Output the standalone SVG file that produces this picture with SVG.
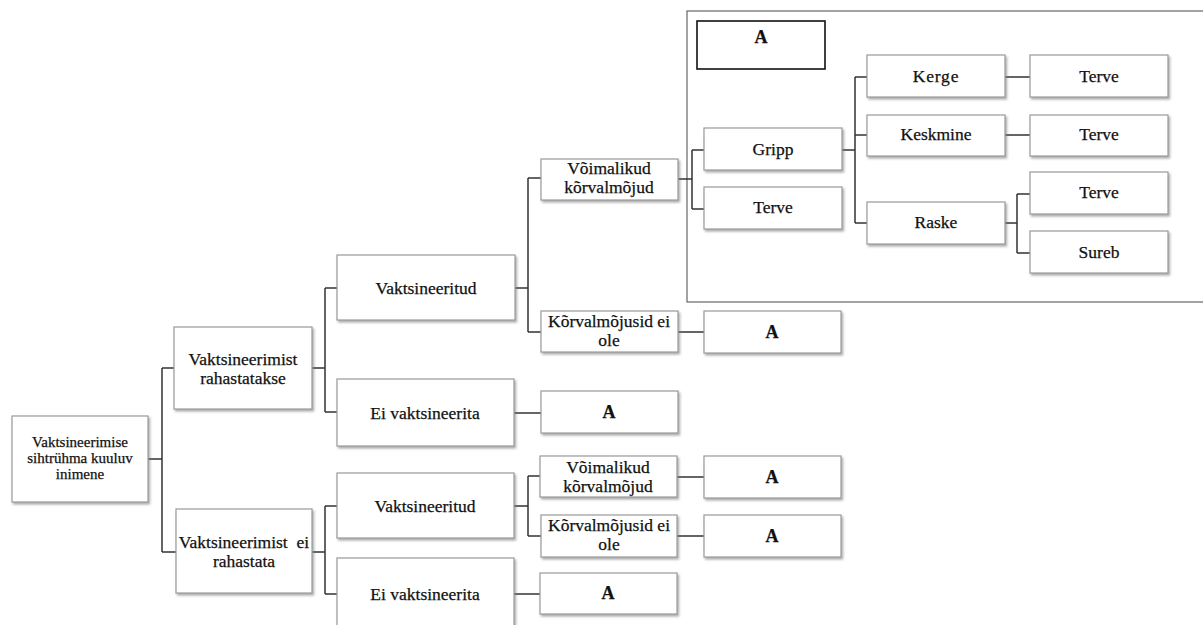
<svg xmlns="http://www.w3.org/2000/svg" width="1203" height="625" viewBox="0 0 1203 625">
<defs>
<filter id="ds" x="-10%" y="-10%" width="130%" height="140%">
<feDropShadow dx="1.5" dy="2" stdDeviation="1" flood-color="#777" flood-opacity="0.6"/>
</filter>
<style>
.b{fill:#fff;stroke:#9a9a9a;stroke-width:1.2;filter:url(#ds)}
text{font-family:'Liberation Serif','Times New Roman',serif;font-size:17.5px;fill:#111;stroke:#111;stroke-width:0.25;text-anchor:middle}
.r{font-size:15px}
.a{font-weight:bold;font-size:18px}
.c{fill:none;stroke:#333;stroke-width:1.5}
.f{fill:none;stroke:#666;stroke-width:1.2}
.k{fill:#fff;stroke:#111;stroke-width:1.6}
</style>
</defs>
<rect width="1203" height="625" fill="#fff"/>

<g id="frame"><rect class="f" x="687" y="11" width="600" height="291"/></g>

<g id="connectors">
<path class="c" d="M148 459H162M162 368V552M162 368H174M162 552H176"/>
<path class="c" d="M312 368H325M325 288V412M325 288H337M325 412H337"/>
<path class="c" d="M312 552H325M325 506V594M325 506H337M325 594H337"/>
<path class="c" d="M515 288H528M528 178V332M528 178H541M528 332H541"/>
<path class="c" d="M514 413H541"/>
<path class="c" d="M514 506H528M528 476V536M528 476H540M528 536H541"/>
<path class="c" d="M514 594H540"/>
<path class="c" d="M678 179H692M692 150V209M692 150H704M692 209H704"/>
<path class="c" d="M678 332H704M677 477H704M677 536H704"/>
<path class="c" d="M842 150H855M855 77V223M855 77H867M855 135H867M855 223H867"/>
<path class="c" d="M1005 77H1030M1005 135H1030"/>
<path class="c" d="M1005 223H1017M1017 194V253M1017 194H1030M1017 253H1030"/>
</g>

<g id="root"><rect class="b" x="12" y="416" width="136" height="86"/>
<text class="r" x="80" y="447">Vaktsineerimise</text>
<text class="r" x="80" y="463">sihtrühma kuuluv</text>
<text class="r" x="80" y="479">inimene</text></g>

<g id="rahastatakse"><rect class="b" x="174" y="327" width="138" height="82"/>
<text x="243" y="365">Vaktsineerimist</text>
<text x="243" y="384">rahastatakse</text></g>

<g id="ei-rahastata"><rect class="b" x="176" y="509" width="136" height="84"/>
<text x="244" y="548" xml:space="preserve">Vaktsineerimist  ei</text>
<text x="244" y="567">rahastata</text></g>

<g id="vakts1"><rect class="b" x="337" y="255" width="178" height="65"/>
<text x="426" y="294">Vaktsineeritud</text></g>

<g id="eivakts1"><rect class="b" x="337" y="379" width="177" height="67"/>
<text x="425" y="419">Ei vaktsineerita</text></g>

<g id="vakts2"><rect class="b" x="337" y="473" width="177" height="65"/>
<text x="425" y="512">Vaktsineeritud</text></g>

<g id="eivakts2"><rect class="b" x="337" y="558" width="177" height="80"/>
<text x="425" y="600">Ei vaktsineerita</text></g>

<g id="voim1"><rect class="b" x="541" y="159" width="137" height="41"/>
<text x="609" y="174">Võimalikud</text>
<text x="609" y="193">kõrvalmõjud</text></g>

<g id="korv1"><rect class="b" x="541" y="311" width="137" height="41"/>
<text x="609" y="327">Kõrvalmõjusid ei</text>
<text x="609" y="346">ole</text></g>

<g id="a-eivakts1"><rect class="b" x="541" y="391" width="137" height="42"/>
<text class="a" x="609" y="418">A</text></g>

<g id="voim2"><rect class="b" x="540" y="456" width="137" height="41"/>
<text x="608" y="473">Võimalikud</text>
<text x="608" y="492">kõrvalmõjud</text></g>

<g id="korv2"><rect class="b" x="541" y="515" width="136" height="42"/>
<text x="609" y="531">Kõrvalmõjusid ei</text>
<text x="609" y="550">ole</text></g>

<g id="a-eivakts2"><rect class="b" x="540" y="573" width="137" height="41"/>
<text class="a" x="608" y="599">A</text></g>

<g id="a-korv1"><rect class="b" x="704" y="311" width="137" height="42"/>
<text class="a" x="772" y="338">A</text></g>

<g id="a-voim2"><rect class="b" x="704" y="456" width="137" height="42"/>
<text class="a" x="772" y="483">A</text></g>

<g id="a-korv2"><rect class="b" x="704" y="515" width="137" height="42"/>
<text class="a" x="772" y="542">A</text></g>

<g id="a-frame"><rect class="k" x="697" y="21" width="128" height="48"/>
<text class="a" x="761" y="43">A</text></g>

<g id="gripp"><rect class="b" x="704" y="128" width="138" height="42"/>
<text x="773" y="155">Gripp</text></g>

<g id="terve0"><rect class="b" x="704" y="187" width="138" height="42"/>
<text x="773" y="213">Terve</text></g>

<g id="kerge"><rect class="b" x="867" y="55" width="138" height="42"/>
<text x="936" y="82" letter-spacing="0.8">Kerge</text></g>

<g id="keskmine"><rect class="b" x="867" y="115" width="138" height="41"/>
<text x="936" y="140">Keskmine</text></g>

<g id="raske"><rect class="b" x="867" y="202" width="138" height="42"/>
<text x="936" y="228">Raske</text></g>

<g id="terve1"><rect class="b" x="1030" y="55" width="138" height="42"/>
<text x="1099" y="82">Terve</text></g>

<g id="terve2"><rect class="b" x="1030" y="115" width="138" height="41"/>
<text x="1099" y="140">Terve</text></g>

<g id="terve3"><rect class="b" x="1030" y="172" width="138" height="42"/>
<text x="1099" y="198">Terve</text></g>

<g id="sureb"><rect class="b" x="1030" y="231" width="138" height="42"/>
<text x="1099" y="258">Sureb</text></g>
</svg>
